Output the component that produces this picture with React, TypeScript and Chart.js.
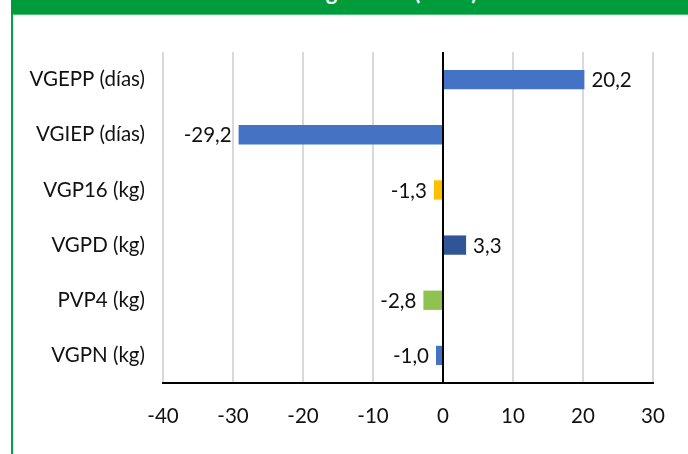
import React, { useEffect, useRef } from "react";
import { Chart, registerables } from "chart.js";

Chart.register(...registerables);

const categories = ["VGEPP (días)", "VGIEP (días)", "VGP16 (kg)", "VGPD (kg)", "PVP4 (kg)", "VGPN (kg)"];
const values = [20.2, -29.2, -1.3, 3.3, -2.8, -1.0];
const barColors = ["#4472C4", "#4472C4", "#FFC000", "#2F5597", "#8FC350", "#4472C4"];
const xMin = -40;
const xMax = 30;
const xStep = 10;
const titleText = "Tendencia genética (2023)";

const FONT = "Lato, 'Open Sans', sans-serif";

const valueLabels = {
  id: "valueLabels",
  afterDatasetsDraw(chart: any) {
    const ctx = chart.ctx;
    const meta = chart.getDatasetMeta(0);
    ctx.save();
    ctx.font = `20.5px ${FONT}`;
    ctx.fillStyle = "#111111";
    ctx.textBaseline = "middle";
    meta.data.forEach((bar: any, i: number) => {
      const v = values[i];
      const txt = v.toFixed(1).replace(".", ",");
      if (v >= 0) {
        ctx.textAlign = "left";
        ctx.fillText(txt, bar.x + 7, bar.y + 1);
      } else {
        ctx.textAlign = "right";
        ctx.fillText(txt, bar.x - 7, bar.y + 1);
      }
    });
    ctx.restore();
  },
};

export default function App() {
  const ref = useRef<HTMLCanvasElement>(null);
  useEffect(() => {
    document.body.style.margin = "0";
    const chart = new Chart(ref.current!, {
      type: "bar",
      data: {
        labels: categories,
        datasets: [
          {
            data: values,
            backgroundColor: barColors,
            borderWidth: 0,
            barPercentage: 0.35,
            categoryPercentage: 1,
          },
        ],
      },
      options: {
        indexAxis: "y",
        animation: false,
        responsive: false,
        maintainAspectRatio: false,
        layout: { padding: { top: 52, right: 35, left: 0, bottom: 0 } },
        plugins: { legend: { display: false }, tooltip: { enabled: false }, title: { display: false } },
        scales: {
          x: {
            min: xMin,
            max: xMax,
            ticks: {
              stepSize: xStep,
              color: "#111111",
              font: { family: FONT, size: 20.5 },
              padding: 21,
            },
            grid: {
              drawTicks: false,
              color: (c: any) => (c.tick && c.tick.value === 0 ? "#000000" : "#D9D9D9"),
              lineWidth: 2,
            },
            border: { display: true, color: "#000000", width: 2 },
            afterFit: (s: any) => {
              s.height = 71;
            },
          },
          y: {
            ticks: {
              color: "#111111",
              font: { family: FONT, size: 20.5 },
              padding: 18,
            },
            grid: { display: false, drawTicks: false },
            border: { display: false },
            afterFit: (s: any) => {
              s.width = 163;
            },
          },
        },
      },
      plugins: [valueLabels],
    });
    return () => chart.destroy();
  }, []);

  return (
    <div style={{ position: "relative", width: 688, height: 454, background: "#fff", overflow: "hidden" }}>
      <canvas ref={ref} width={688} height={454} style={{ position: "absolute", left: 0, top: 0 }} />
      <div
        style={{
          position: "absolute",
          left: 11,
          top: 0,
          width: 677,
          height: 14,
          background: "#009B3A",
          borderBottom: "1px solid #4CC17A",
          overflow: "hidden",
        }}
      >
        <div
          style={{
            position: "absolute",
            left: 0,
            width: 677,
            top: -19,
            textAlign: "center",
            color: "#fff",
            fontFamily: FONT,
            fontWeight: 700,
            fontSize: 22,
            lineHeight: "22px",
            whiteSpace: "nowrap",
          }}
        >
          {titleText}
        </div>
      </div>
      <div style={{ position: "absolute", left: 11, top: 14, width: 2, height: 440, background: "#00A33F" }} />
    </div>
  );
}
